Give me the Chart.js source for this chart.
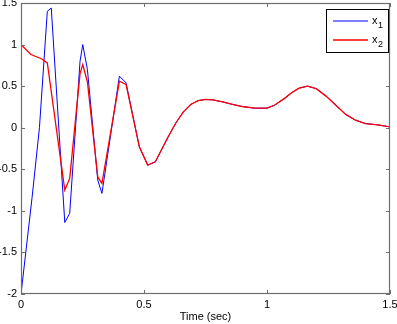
<!DOCTYPE html>
<html>
<head>
<meta charset="utf-8">
<script src="https://cdn.jsdelivr.net/npm/chart.js@4.4.0/dist/chart.umd.min.js"></script>
<style>
  html, body { margin: 0; padding: 0; background: #ffffff; }
  #wrap { width: 397px; height: 324px; }
</style>
</head>
<body>
<div id="wrap"><canvas id="c" width="397" height="324"></canvas></div>
<script>
// ---- data ----
const seriesLabels = ["x1", "x2"];
const timeX1 = [0, 0.045, 0.075, 0.107, 0.123, 0.178, 0.198, 0.24, 0.251, 0.27, 0.312, 0.329, 0.40, 0.427, 0.481, 0.515, 0.546, 0.60, 0.63, 0.66, 0.69, 0.72, 0.75, 0.78, 0.82, 0.86, 0.90, 0.95, 1.0, 1.03, 1.07, 1.10, 1.13, 1.165, 1.20, 1.24, 1.28, 1.32, 1.36, 1.40, 1.45, 1.5];
const valuesX1 = [-2.0, -0.84, 0.0, 1.40, 1.44, -1.14, -1.03, 0.80, 1.0, 0.70, -0.63, -0.79, 0.62, 0.54, -0.23, -0.45, -0.41, -0.10, 0.06, 0.19, 0.28, 0.325, 0.34, 0.335, 0.31, 0.28, 0.255, 0.235, 0.235, 0.27, 0.35, 0.42, 0.475, 0.50, 0.47, 0.38, 0.27, 0.16, 0.09, 0.05, 0.035, 0.01];
const timeX2 = [0, 0.04, 0.083, 0.107, 0.178, 0.198, 0.24, 0.251, 0.27, 0.312, 0.329, 0.40, 0.427, 0.481, 0.515, 0.546, 0.60, 0.63, 0.66, 0.69, 0.72, 0.75, 0.78, 0.82, 0.86, 0.90, 0.95, 1.0, 1.03, 1.07, 1.10, 1.13, 1.165, 1.20, 1.24, 1.28, 1.32, 1.36, 1.40, 1.45, 1.5];
const valuesX2 = [1.0, 0.88, 0.83, 0.78, -0.75, -0.61, 0.65, 0.76, 0.55, -0.59, -0.67, 0.56, 0.52, -0.23, -0.45, -0.41, -0.10, 0.06, 0.19, 0.28, 0.325, 0.34, 0.335, 0.31, 0.28, 0.255, 0.235, 0.235, 0.27, 0.35, 0.42, 0.475, 0.50, 0.47, 0.38, 0.27, 0.16, 0.09, 0.05, 0.035, 0.01];
const xTicks = [0, 0.5, 1, 1.5];
const yTicks = [-2, -1.5, -1, -0.5, 0, 0.5, 1, 1.5];
const xTitle = "Time (sec)";

const toPts = (xs, ys) => xs.map((x, i) => ({ x: x, y: ys[i] }));

const FONT = "'Liberation Sans', Arial, sans-serif";

// axes box, inward ticks and the in-plot legend (MATLAB style)
const matlabAxes = {
  id: 'matlabAxes',
  afterDatasetsDraw(chart) {
    const ctx = chart.ctx;
    const a = chart.chartArea;
    const xs = chart.scales.x, ys = chart.scales.y;
    ctx.save();
    ctx.strokeStyle = '#6e6e6e';
    ctx.lineWidth = 1.2;
    ctx.strokeRect(a.left + 0.5, a.top + 0.5, a.right - a.left - 1, a.bottom - a.top - 1);
    ctx.lineWidth = 1;
    const tl = 4;
    xTicks.forEach(v => {
      const px = Math.round(xs.getPixelForValue(v)) + 0.5;
      ctx.beginPath();
      ctx.moveTo(px, a.bottom); ctx.lineTo(px, a.bottom - tl);
      ctx.moveTo(px, a.top); ctx.lineTo(px, a.top + tl);
      ctx.stroke();
    });
    yTicks.forEach(v => {
      const py = Math.round(ys.getPixelForValue(v)) + 0.5;
      ctx.beginPath();
      ctx.moveTo(a.left, py); ctx.lineTo(a.left + tl, py);
      ctx.moveTo(a.right, py); ctx.lineTo(a.right - tl, py);
      ctx.stroke();
    });

    // legend box
    const bx = a.right - 64, by = a.top + 6, bw = 62, bh = 43;
    ctx.fillStyle = '#ffffff';
    ctx.fillRect(bx, by, bw, bh);
    ctx.strokeStyle = '#000000';
    ctx.lineWidth = 1;
    ctx.strokeRect(bx + 0.5, by + 0.5, bw, bh);
    chart.data.datasets.forEach((ds, i) => {
      const ly = by + 12 + i * 19;
      ctx.strokeStyle = ds.borderColor;
      ctx.lineWidth = ds.borderWidth;
      ctx.beginPath();
      ctx.moveTo(bx + 7, ly); ctx.lineTo(bx + 42, ly);
      ctx.stroke();
      ctx.fillStyle = '#000000';
      ctx.textBaseline = 'alphabetic';
      ctx.textAlign = 'left';
      const lab = ds.label;
      ctx.font = '11px ' + FONT;
      ctx.fillText(lab.charAt(0), bx + 46, ly + 3);
      const w = ctx.measureText(lab.charAt(0)).width;
      ctx.font = '9px ' + FONT;
      ctx.fillText(lab.slice(1), bx + 46 + w + 0.5, ly + 7);
    });
    ctx.restore();
  }
};

new Chart(document.getElementById('c'), {
  type: 'line',
  data: {
    datasets: [
      { label: seriesLabels[0], data: toPts(timeX1, valuesX1), borderColor: '#0000ff', borderWidth: 1, pointRadius: 0, tension: 0, fill: false, order: 2 },
      { label: seriesLabels[1], data: toPts(timeX2, valuesX2), borderColor: '#ff0000', borderWidth: 1.3, pointRadius: 0, tension: 0, fill: false, order: 1 }
    ]
  },
  options: {
    responsive: false,
    animation: false,
    devicePixelRatio: 1,
    layout: { padding: { left: 0, right: 7, top: 3, bottom: 0 } },
    plugins: { legend: { display: false }, tooltip: { enabled: false } },
    scales: {
      x: {
        type: 'linear', min: 0, max: 1.5,
        afterBuildTicks(scale) { scale.ticks = xTicks.map(v => ({ value: v })); },
        afterFit(scale) { scale.height = 30; scale.paddingLeft = 0; scale.paddingRight = 0; },
        grid: { display: false, drawTicks: false },
        border: { display: false },
        ticks: { color: '#000', font: { family: FONT, size: 11 }, padding: 4, maxRotation: 0, autoSkip: false, callback: v => String(v) },
        title: { display: true, text: xTitle, color: '#000', font: { family: FONT, size: 11 }, padding: { top: 0, bottom: 0 } }
      },
      y: {
        type: 'linear', min: -2, max: 1.5,
        afterBuildTicks(scale) { scale.ticks = yTicks.map(v => ({ value: v })); },
        afterFit(scale) { scale.width = 21; scale.paddingTop = 0; scale.paddingBottom = 0; },
        grid: { display: false, drawTicks: false },
        border: { display: false },
        ticks: { color: '#000', font: { family: FONT, size: 11 }, padding: 4, autoSkip: false, callback: v => String(v) }
      }
    }
  },
  plugins: [matlabAxes]
});
</script>
</body>
</html>
